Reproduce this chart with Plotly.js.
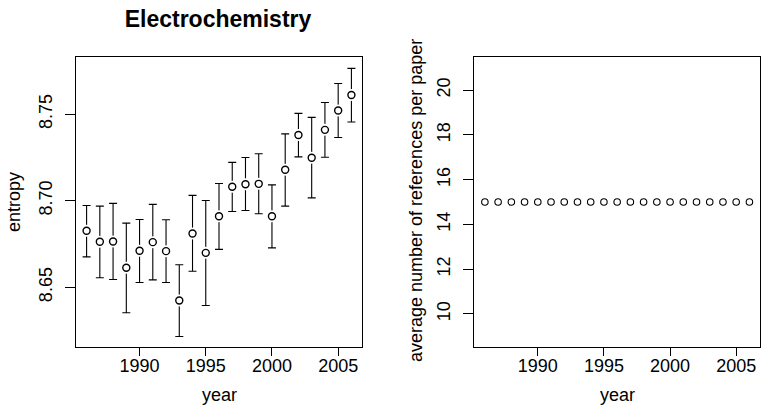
<!DOCTYPE html>
<html>
<head>
<meta charset="utf-8">
<script src="https://cdn.plot.ly/plotly-3.0.1.min.js"></script>
<style>
  html, body { margin: 0; padding: 0; background: #fff; }
  #chart { width: 764px; height: 410px; }
</style>
</head>
<body>
<div id="chart"></div>
<script>
// ---- data ----
const years = [1986, 1987, 1988, 1989, 1990, 1991, 1992, 1993, 1994, 1995, 1996,
               1997, 1998, 1999, 2000, 2001, 2002, 2003, 2004, 2005, 2006];
const entropy = [8.6827, 8.6763, 8.6765, 8.6613, 8.6711, 8.6761, 8.6709, 8.6424, 8.6811, 8.6699, 8.6911,
                 8.7081, 8.7096, 8.7098, 8.6911, 8.7179, 8.7380, 8.7249, 8.7410, 8.7522, 8.7611];
const entropyUpper = [8.6973, 8.6969, 8.6985, 8.6871, 8.6892, 8.6979, 8.6890, 8.6630, 8.7031, 8.7002, 8.7100,
                      8.7222, 8.7250, 8.7272, 8.7092, 8.7387, 8.7505, 8.7482, 8.7568, 8.7678, 8.7765];
const entropyLower = [8.6676, 8.6555, 8.6545, 8.6353, 8.6528, 8.6543, 8.6528, 8.6216, 8.6593, 8.6395, 8.6719,
                      8.6938, 8.6944, 8.6925, 8.6728, 8.6969, 8.7254, 8.7017, 8.7252, 8.7366, 8.7455];
const refsPerPaper = [15, 15, 15, 15, 15, 15, 15, 15, 15, 15, 15,
                      15, 15, 15, 15, 15, 15, 15, 15, 15, 15];
const xTickVals = [1990, 1995, 2000, 2005];
const entropyTickVals = [8.65, 8.70, 8.75];
const refsTickVals = [10, 12, 14, 16, 18, 20];
const titleText = 'Electrochemistry';
const xLabel = 'year';
const yLabelLeft = 'entropy';
const yLabelRight = 'average number of references per paper';

// ---- layout geometry ----
const W = 764, H = 410;
const FONT = '"Liberation Sans", Arial, Helvetica, sans-serif';
const px = v => v / W;
const py = v => 1 - v / H;

const errPlus = entropyUpper.map((u, i) => u - entropy[i]);
const errMinus = entropy.map((v, i) => v - entropyLower[i]);

const traces = [
  { // error bars
    x: years, y: entropy, xaxis: 'x', yaxis: 'y', type: 'scatter', mode: 'markers',
    marker: { size: 1, color: 'rgba(0,0,0,0)' },
    error_y: { type: 'data', symmetric: false, array: errPlus, arrayminus: errMinus,
               width: 4, thickness: 1.1, color: '#000' },
    hoverinfo: 'skip', showlegend: false
  },
  { // white gap around points
    x: years, y: entropy, xaxis: 'x', yaxis: 'y', type: 'scatter', mode: 'markers',
    marker: { size: 12, color: '#fff', line: { width: 0 } },
    hoverinfo: 'skip', showlegend: false
  },
  { // points
    x: years, y: entropy, xaxis: 'x', yaxis: 'y', type: 'scatter', mode: 'markers',
    marker: { symbol: 'circle-open', size: 7, color: '#000', line: { width: 1.4 } },
    showlegend: false
  },
  {
    x: years, y: refsPerPaper, xaxis: 'x2', yaxis: 'y2', type: 'scatter', mode: 'markers',
    marker: { symbol: 'circle-open', size: 6.5, color: '#000', line: { width: 1.1 } },
    showlegend: false
  }
];

const axisCommon = {
  showgrid: false, zeroline: false, showline: true, mirror: true,
  linecolor: '#000', linewidth: 1, ticks: 'outside', tickcolor: '#000', tickwidth: 1,
  tickfont: { family: FONT, size: 18, color: '#000' }, automargin: false
};

const layout = {
  width: W, height: H,
  margin: { l: 0, r: 0, t: 0, b: 0 },
  paper_bgcolor: '#fff', plot_bgcolor: '#fff',
  showlegend: false,
  title: { text: '<b>' + titleText + '</b>', x: px(218), xanchor: 'center', y: py(19), yanchor: 'middle',
           font: { family: FONT, size: 23, color: '#000' } },
  xaxis: Object.assign({}, axisCommon, {
    domain: [px(76), px(362)], range: [1985.2, 2006.8], anchor: 'y',
    tickmode: 'array', tickvals: xTickVals, ticklen: 8, ticklabelstandoff: -6
  }),
  yaxis: Object.assign({}, axisCommon, {
    domain: [py(347), py(57)], range: [8.6155, 8.7831], anchor: 'x',
    tickmode: 'array', tickvals: entropyTickVals, tickformat: '.2f', ticklen: 10, tickangle: -90,
    ticklabelstandoff: 6
  }),
  xaxis2: Object.assign({}, axisCommon, {
    domain: [px(474.3), px(760)], range: [1985.2, 2006.8], anchor: 'y2',
    tickmode: 'array', tickvals: xTickVals, ticklen: 8, ticklabelstandoff: -6
  }),
  yaxis2: Object.assign({}, axisCommon, {
    domain: [py(347), py(57)], range: [8.52, 21.48], anchor: 'x2',
    tickmode: 'array', tickvals: refsTickVals, ticklen: 10, tickangle: -90,
    ticklabelstandoff: 6
  }),
  annotations: [
    { text: xLabel, xref: 'paper', yref: 'paper', x: px(219), y: py(395), xanchor: 'center', yanchor: 'middle',
      showarrow: false, font: { family: FONT, size: 18, color: '#000' } },
    { text: xLabel, xref: 'paper', yref: 'paper', x: px(617), y: py(395), xanchor: 'center', yanchor: 'middle',
      showarrow: false, font: { family: FONT, size: 18, color: '#000' } },
    { text: yLabelLeft, xref: 'paper', yref: 'paper', x: px(14), y: py(202), xanchor: 'center', yanchor: 'middle',
      textangle: -90, showarrow: false, font: { family: FONT, size: 18, color: '#000' } },
    { text: yLabelRight, xref: 'paper', yref: 'paper', x: px(416), y: py(201), xanchor: 'center', yanchor: 'middle',
      textangle: -90, showarrow: false, font: { family: FONT, size: 18, color: '#000' } }
  ]
};

Plotly.newPlot('chart', traces, layout, { staticPlot: true, displayModeBar: false });
</script>
</body>
</html>
